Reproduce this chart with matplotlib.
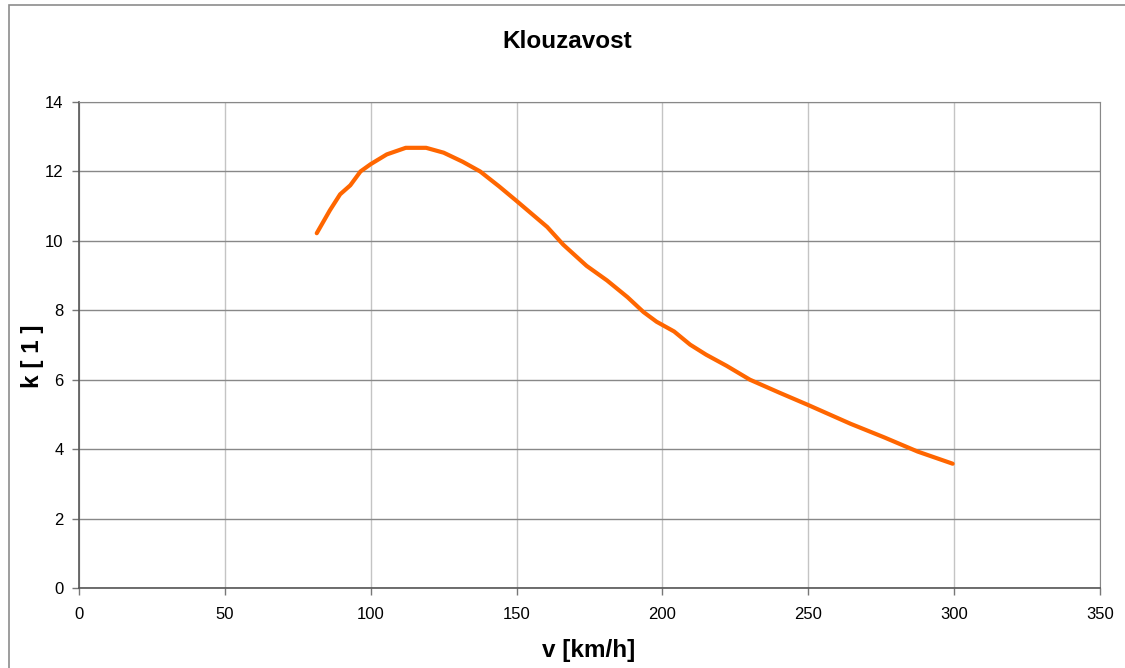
import matplotlib.pyplot as plt
from matplotlib.patches import Rectangle

v = [81.5, 86, 89.5, 93, 96.5, 100, 105.5, 112, 119, 125, 131.5, 137.5,
     144, 150, 160.5, 166, 174, 181, 188, 193.5, 198, 204, 209.5, 215,
     222, 230, 240, 250, 264.5, 276, 287.5, 299.5]
k = [10.22, 10.88, 11.34, 11.6, 12.0, 12.21, 12.49, 12.68, 12.68, 12.54,
     12.28, 12.0, 11.57, 11.15, 10.4, 9.89, 9.28, 8.86, 8.38, 7.95, 7.67,
     7.39, 7.01, 6.72, 6.40, 6.0, 5.63, 5.27, 4.73, 4.34, 3.93, 3.58]

x_ticks = [0, 50, 100, 150, 200, 250, 300, 350]
y_ticks = [0, 2, 4, 6, 8, 10, 12, 14]

plt.rcParams['font.family'] = ['Liberation Sans', 'DejaVu Sans']

fig = plt.figure(figsize=(11.25, 6.68), dpi=100)
ax = fig.add_axes([79 / 1125, 1 - 588 / 668, 1021 / 1125, 486 / 668])

# outer chart border
fig.patches.append(Rectangle((9 / 1125, -0.05), 1.2, 1 - 5 / 668 + 0.05,
                             transform=fig.transFigure, fill=False,
                             edgecolor='#8c8c8c', linewidth=1.2))

ax.plot(v, k, color='#FF6600', linewidth=3, solid_capstyle='round',
        solid_joinstyle='round', zorder=3)

ax.set_xlim(0, 350)
ax.set_ylim(0, 14)
ax.set_xticks(x_ticks)
ax.set_yticks(y_ticks)
ax.yaxis.grid(True, color='#888888', linewidth=1)
ax.xaxis.grid(True, color='#c4c4c4', linewidth=1)
ax.set_axisbelow(True)

for side in ['top', 'right']:
    ax.spines[side].set_color('#888888')
for side in ['left', 'bottom']:
    ax.spines[side].set_color('#555555')
    ax.spines[side].set_linewidth(1.2)

ax.tick_params(axis='both', direction='out', length=5, width=1,
               color='#777777', labelsize=12, labelcolor='black')
ax.tick_params(axis='x', pad=9)
ax.tick_params(axis='y', pad=6)

fig.text(567 / 1125, 1 - 42 / 668, 'Klouzavost', ha='center', va='center',
         fontsize=17.5, fontweight='bold')
fig.text(589 / 1125, 1 - 650 / 668, 'v [km/h]', ha='center', va='center',
         fontsize=17.5, fontweight='bold')
fig.text(32 / 1125, 1 - 356 / 668, 'k [ 1 ]', ha='center', va='center',
         fontsize=17.5, fontweight='bold', rotation=90)

fig.savefig('out.png', dpi=100)
